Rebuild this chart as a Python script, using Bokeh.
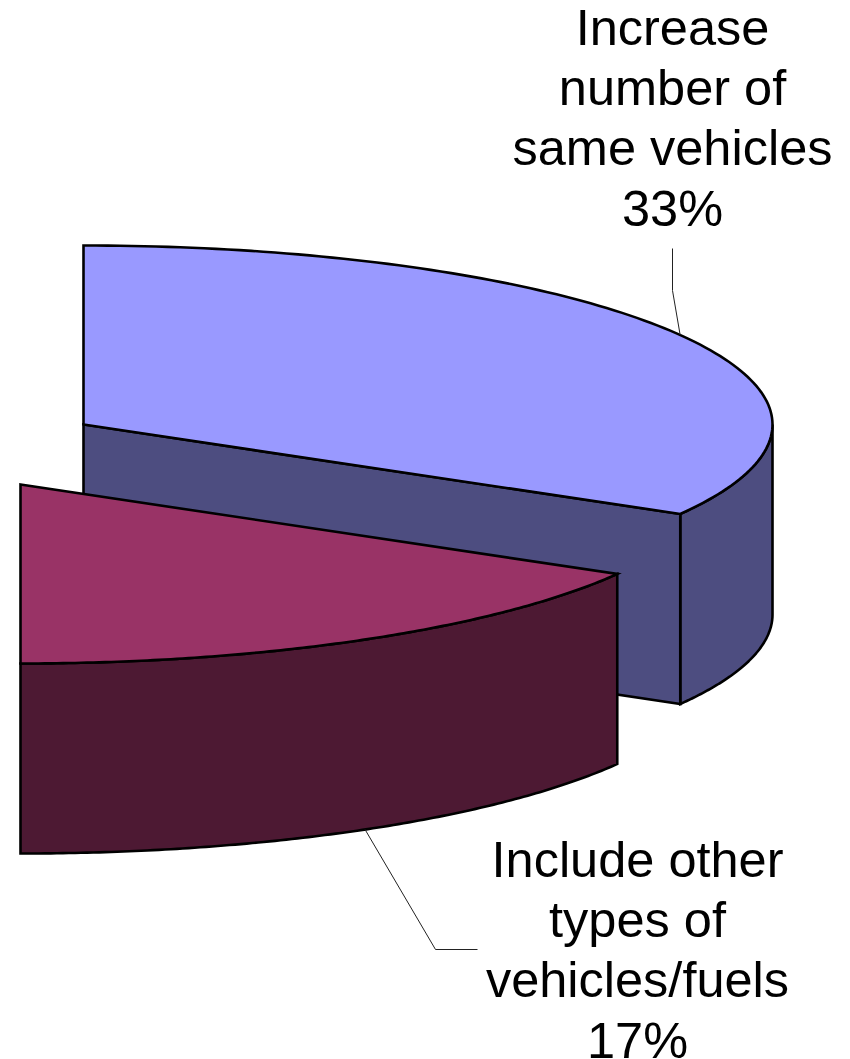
import numpy as np
from bokeh.core.properties import value
from bokeh.embed import file_html
from bokeh.models import ColumnDataSource, Range1d
from bokeh.plotting import figure
from bokeh.resources import INLINE

# Visible slices of the pie (percent of the whole pie, clockwise from 12 o'clock)
slice_names = ["Increase number of same vehicles", "Include other types of vehicles/fuels"]
slice_shares = [33.33, 16.67]
label_lines = [["Increase", "number of", "same vehicles"], ["Include other", "types of", "vehicles/fuels"]]
top_colors = ["#9999FF", "#993366"]
side_colors = ["#4D4D80", "#4D1933"]

# Pie projection, in page pixels
RX, RY, DEPTH = 689, 179, 190
centers = [(83, 424), (20, 484)]          # second slice is pulled out of the pie
label_anchor = [(672, 27), (637, 859)]
LINE_STEP = 60.2
leader_elbows = [[(672, 290), (672, 248)], [(435, 949), (477, 949)]]


def rim(center, start_deg, end_deg, drop=0, n=120):
    t = np.radians(np.linspace(start_deg, end_deg, n))
    return center[0] + RX * np.cos(t), center[1] - RY * np.sin(t) + drop


p = figure(width=850, height=1059, output_backend="svg", toolbar_location=None,
           x_range=Range1d(0, 850), y_range=Range1d(1059, 0),
           min_border=0, outline_line_color=None, background_fill_color="white")
p.axis.visible = False
p.grid.visible = False

outline = dict(line_color="black", line_width=2.6, line_join="miter")
angle = 90.0
for i, share in enumerate(slice_shares):
    start, end = angle, angle - share * 3.6
    angle = end
    c = centers[i]
    rx, ry = rim(c, start, end)

    # Outer wall: only the part of the rim facing the viewer (below the horizontal axis)
    wall_start = min(start, 0)
    wx, wy = rim(c, wall_start, end)
    wbx, wby = rim(c, wall_start, end, DEPTH)
    p.patch(np.r_[wx, wbx[::-1]], np.r_[wy, wby[::-1]], fill_color=side_colors[i], **outline)

    # Cut wall along the slice's clockwise edge
    if i == 0:
        p.patch([c[0], rx[-1], rx[-1], c[0]], [c[1], ry[-1], ry[-1] + DEPTH, c[1] + DEPTH],
                fill_color=side_colors[i], **outline)

    # Top face
    p.patch(np.r_[c[0], rx], np.r_[c[1], ry], fill_color=top_colors[i], **outline)

    # Leader from the middle of the slice's rim to its label
    mid = (start + end) / 2
    mx, my = rim(c, mid, mid, DEPTH if mid < 0 else 0, n=1)
    elbows = leader_elbows[i]
    p.line([mx[0]] + [e[0] for e in elbows], [my[0]] + [e[1] for e in elbows],
           line_color="#222222", line_width=1)

    # Label: category lines followed by the rounded share
    lines = label_lines[i] + [f"{round(share)}%"]
    ax, ay = label_anchor[i]
    src = ColumnDataSource(dict(x=[ax] * len(lines), y=[ay + k * LINE_STEP for k in range(len(lines))], t=lines))
    p.text("x", "y", text="t", source=src, text_font=value("Liberation Sans"), text_font_size="50.5px",
           text_color="black", text_align="center", text_baseline="alphabetic")

open("out.html", "w").write(file_html(p, INLINE))
